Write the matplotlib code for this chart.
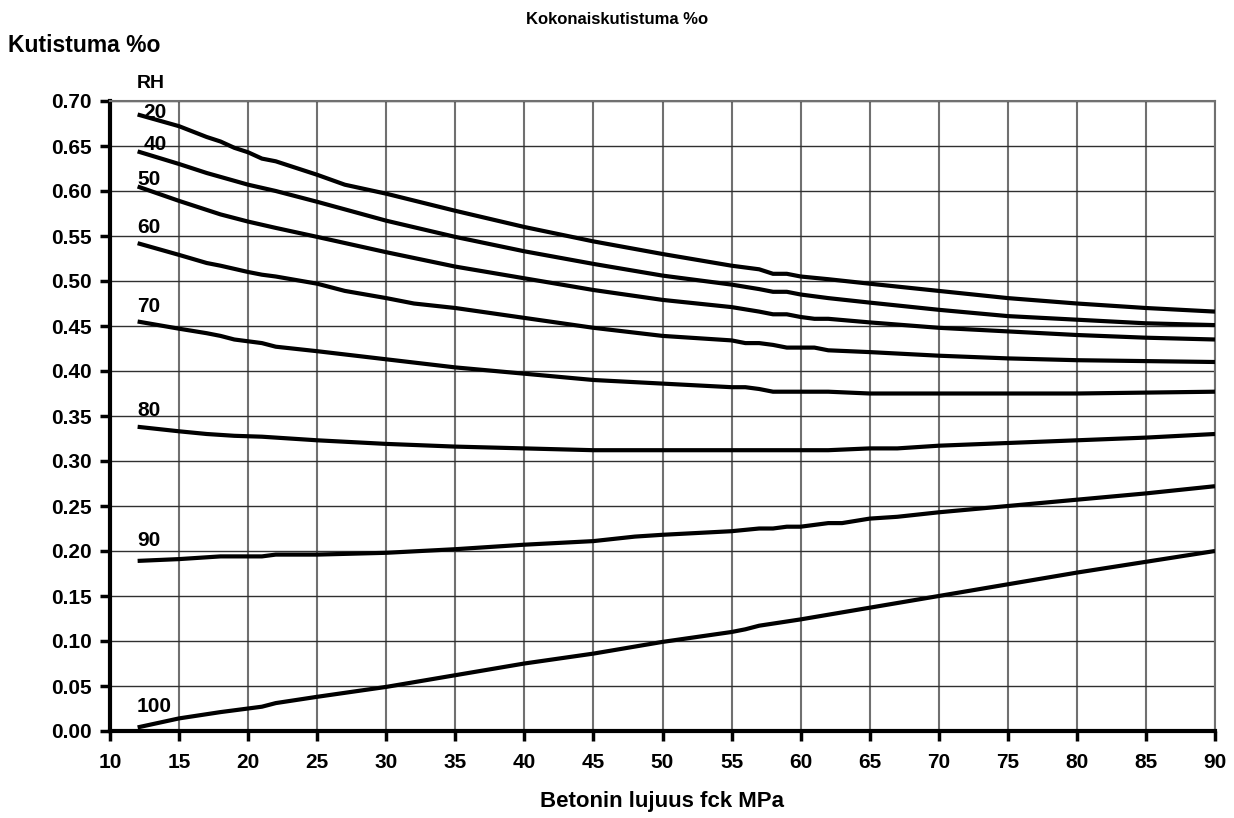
import matplotlib
matplotlib.use("Agg")
import matplotlib.pyplot as plt

plt.rcParams['font.family'] = ['Liberation Sans', 'DejaVu Sans']
plt.rcParams['font.weight'] = 'bold'

# ---- data ----
x20 = [12, 15, 17, 18, 19, 20, 21, 22, 25, 27, 30, 35, 40, 45, 50, 55, 57, 58, 59, 60, 62, 65, 70, 75, 80, 85, 90]
y20 = [0.685, 0.672, 0.660, 0.655, 0.648, 0.643, 0.636, 0.633, 0.618, 0.607, 0.597, 0.578, 0.560, 0.544, 0.530,
       0.517, 0.513, 0.508, 0.508, 0.505, 0.502, 0.497, 0.489, 0.481, 0.475, 0.470, 0.466]

x40 = [12, 15, 17, 20, 22, 25, 30, 35, 40, 45, 50, 55, 57, 58, 59, 60, 62, 65, 70, 75, 80, 85, 90]
y40 = [0.644, 0.630, 0.620, 0.607, 0.600, 0.588, 0.567, 0.549, 0.533, 0.519, 0.506, 0.496, 0.491, 0.488, 0.488,
       0.485, 0.481, 0.476, 0.468, 0.461, 0.457, 0.453, 0.451]

x50 = [12, 15, 18, 20, 22, 25, 30, 35, 40, 45, 50, 55, 57, 58, 59, 60, 61, 62, 65, 70, 75, 80, 85, 90]
y50 = [0.605, 0.589, 0.574, 0.566, 0.559, 0.549, 0.532, 0.516, 0.503, 0.490, 0.479, 0.471, 0.466, 0.463, 0.463,
       0.460, 0.458, 0.458, 0.454, 0.448, 0.444, 0.440, 0.437, 0.435]

x60 = [12, 15, 17, 18, 20, 21, 22, 25, 27, 30, 32, 35, 40, 45, 50, 55, 56, 57, 58, 59, 60, 61, 62, 65, 70, 75, 80, 85, 90]
y60 = [0.542, 0.529, 0.520, 0.517, 0.510, 0.507, 0.505, 0.497, 0.489, 0.481, 0.475, 0.470, 0.459, 0.448, 0.439,
       0.434, 0.431, 0.431, 0.429, 0.426, 0.426, 0.426, 0.423, 0.421, 0.417, 0.414, 0.412, 0.411, 0.410]

x70 = [12, 15, 17, 18, 19, 20, 21, 22, 25, 30, 35, 40, 45, 50, 55, 56, 57, 58, 60, 62, 65, 70, 75, 80, 85, 90]
y70 = [0.455, 0.447, 0.442, 0.439, 0.435, 0.433, 0.431, 0.427, 0.422, 0.413, 0.404, 0.397, 0.390, 0.386, 0.382,
       0.382, 0.380, 0.377, 0.377, 0.377, 0.375, 0.375, 0.375, 0.375, 0.376, 0.377]

x80 = [12, 15, 17, 19, 21, 22, 25, 30, 35, 40, 45, 50, 55, 60, 62, 65, 67, 70, 75, 80, 85, 90]
y80 = [0.338, 0.333, 0.330, 0.328, 0.327, 0.326, 0.323, 0.319, 0.316, 0.314, 0.312, 0.312, 0.312, 0.312, 0.312,
       0.314, 0.314, 0.317, 0.320, 0.323, 0.326, 0.330]

x90 = [12, 15, 18, 21, 22, 25, 30, 35, 40, 45, 48, 50, 55, 57, 58, 59, 60, 62, 63, 65, 67, 70, 75, 80, 85, 90]
y90 = [0.189, 0.191, 0.194, 0.194, 0.196, 0.196, 0.198, 0.202, 0.207, 0.211, 0.216, 0.218, 0.222, 0.225, 0.225,
       0.227, 0.227, 0.231, 0.231, 0.236, 0.238, 0.243, 0.250, 0.257, 0.264, 0.272]

x100 = [12, 15, 18, 20, 21, 22, 25, 30, 35, 40, 45, 50, 55, 56, 57, 60, 65, 70, 75, 80, 85, 90]
y100 = [0.004, 0.014, 0.021, 0.025, 0.027, 0.031, 0.038, 0.049, 0.062, 0.075, 0.086, 0.099, 0.110, 0.113, 0.117,
        0.124, 0.137, 0.150, 0.163, 0.176, 0.188, 0.200]

series = [("20", x20, y20), ("40", x40, y40), ("50", x50, y50), ("60", x60, y60),
          ("70", x70, y70), ("80", x80, y80), ("90", x90, y90), ("100", x100, y100)]

# label positions (data coords)
label_x = [12.4, 12.4, 11.95, 11.95, 11.95, 11.95, 11.95, 11.95]
label_y = [0.687, 0.652, 0.613, 0.559, 0.472, 0.356, 0.212, 0.027]

x_ticks = list(range(10, 91, 5))
y_ticks = [i * 0.05 for i in range(15)]

title = "Kokonaiskutistuma %o"
ylabel = "Kutistuma %o"
xlabel = "Betonin lujuus fck MPa"

# ---- figure ----
fig = plt.figure(figsize=(12.34, 8.18), dpi=100)
ax = fig.add_axes([110 / 1234, 1 - 731 / 818, (1215 - 110) / 1234, (731 - 101) / 818])

ax.set_xlim(10, 90)
ax.set_ylim(0, 0.70)
ax.set_xticks(x_ticks)
ax.set_yticks(y_ticks)
ax.set_xticklabels([str(v) for v in x_ticks])
ax.set_yticklabels([f"{v:.2f}" for v in y_ticks])

for xv in x_ticks:
    ax.axvline(xv, color='#707070', lw=1.5, zorder=1)
for yv in y_ticks:
    ax.axhline(yv, color='#303030', lw=1.0, zorder=1)

for (name, xs, ys), lx, ly in zip(series, label_x, label_y):
    ax.plot(xs, ys, color='black', lw=3, solid_capstyle='butt', zorder=3)
    ax.text(lx, ly, name, fontsize=15, fontweight='bold', ha='left', va='center', zorder=4)

ax.text(11.95, 0.719, "RH", fontsize=14, fontweight='bold', ha='left', va='center', clip_on=False)

for s in ['top', 'right']:
    ax.spines[s].set_color('#707070')
    ax.spines[s].set_linewidth(1.5)
for s in ['left', 'bottom']:
    ax.spines[s].set_color('black')
    ax.spines[s].set_linewidth(3)

ax.tick_params(axis='both', direction='out', length=7, width=2.5, colors='black',
               labelsize=15)
ax.tick_params(axis='y', pad=6)
ax.tick_params(axis='x', pad=9)
for lab in ax.get_xticklabels() + ax.get_yticklabels():
    lab.set_fontweight('bold')

fig.text(0.5, 1 - 19.5 / 818, title, ha='center', va='center', fontsize=12, fontweight='bold')
fig.text(8 / 1234, 1 - 46 / 818, ylabel, ha='left', va='center', fontsize=16.5, fontweight='bold')
fig.text(662 / 1234, 1 - 801 / 818, xlabel, ha='center', va='center', fontsize=16, fontweight='bold')

fig.savefig("out.png", dpi=100)
